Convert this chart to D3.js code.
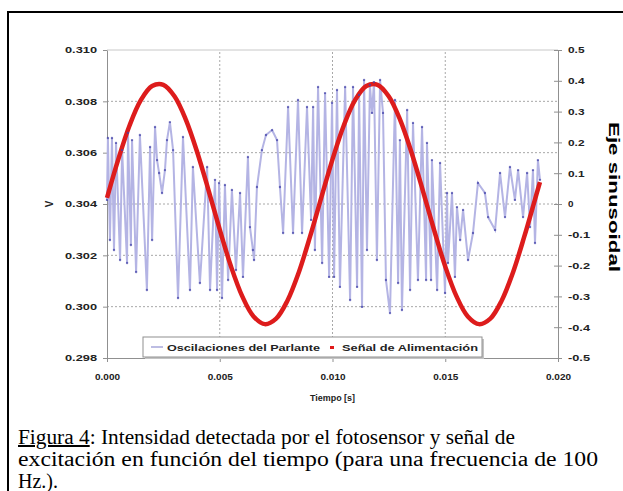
<!DOCTYPE html>
<html>
<head>
<meta charset="utf-8">
<script src="https://cdn.jsdelivr.net/npm/d3@7"></script>
<style>
  body { margin: 0; background: #fff; }
  svg text { font-family: "Liberation Sans", Arial, sans-serif; }
  .caption { font-family: "Liberation Serif", "Times New Roman", serif; font-size: 20px; fill: #000; }
</style>
</head>
<body>
<div id="chart"></div>
<script>
// tick values
var xTicks = [0, 0.005, 0.010, 0.015, 0.020];
var leftTicks = [0.298, 0.300, 0.302, 0.304, 0.306, 0.308, 0.310];
var rightTicks = [-0.5, -0.4, -0.3, -0.2, -0.1, 0, 0.1, 0.2, 0.3, 0.4, 0.5];
var rightTickLabels = ["-0.5", "-0.4", "-0.3", "-0.2", "-0.1", "0", "0.1", "0.2", "0.3", "0.4", "0.5"];
var seriesNames = ["Oscilaciones del Parlante", "Señal de Alimentación"];

// Oscilaciones del Parlante (V, left axis)
var parlanteTime = [0, 0.00004, 0.00013, 0.00022, 0.00031, 0.00040, 0.00058, 0.00067, 0.00089, 0.00093,
  0.00106, 0.00111, 0.00129, 0.00146, 0.00177, 0.00191, 0.00200, 0.00213, 0.00222, 0.00231,
  0.00244, 0.00257, 0.00266, 0.00279, 0.00293, 0.00315, 0.00337, 0.00368, 0.00381, 0.00412,
  0.00444, 0.00457, 0.00479, 0.00488, 0.00497, 0.00510, 0.00523, 0.00537, 0.00554, 0.00572,
  0.00590, 0.00603, 0.00625, 0.00634, 0.00647, 0.00652, 0.00665, 0.00687, 0.00705, 0.00732,
  0.00754, 0.00767, 0.00781, 0.00803, 0.00825, 0.00847, 0.00865, 0.00887, 0.00905, 0.00914,
  0.00922, 0.00936, 0.00954, 0.00967, 0.00985, 0.00998, 0.01007, 0.01020, 0.01033, 0.01056,
  0.01078, 0.01091, 0.01109, 0.01118, 0.01131, 0.01140, 0.01153, 0.01166, 0.01175, 0.01184,
  0.01197, 0.01211, 0.01224, 0.01237, 0.01255, 0.01277, 0.01291, 0.01299, 0.01308, 0.01331,
  0.01344, 0.01357, 0.01379, 0.01397, 0.01415, 0.01419, 0.01437, 0.01441, 0.01464, 0.01477,
  0.01499, 0.01508, 0.01512, 0.01530, 0.01543, 0.01552, 0.01566, 0.01579, 0.01601, 0.01623,
  0.01645, 0.01676, 0.01690, 0.01721, 0.01743, 0.01765, 0.01787, 0.01809, 0.01823, 0.01845,
  0.01863, 0.01876, 0.01889, 0.01898, 0.01911, 0.01920];
var parlanteV = [0.30416, 0.30657, 0.30260, 0.30657, 0.30221, 0.30638, 0.30182, 0.30610, 0.30170, 0.30677,
  0.30240, 0.30649, 0.30135, 0.30669, 0.30065, 0.30622, 0.30260, 0.30700, 0.30571, 0.30521,
  0.30443, 0.30532, 0.30649, 0.30719, 0.30610, 0.30034, 0.30661, 0.30065, 0.30544, 0.30092,
  0.30544, 0.30065, 0.30494, 0.30065, 0.30482, 0.30034, 0.30474, 0.30104, 0.30455, 0.30143,
  0.30443, 0.30116, 0.30583, 0.30310, 0.30221, 0.30182, 0.30466, 0.30610, 0.30669, 0.30688,
  0.30649, 0.30466, 0.30287, 0.30778, 0.30287, 0.30805, 0.30287, 0.30778, 0.30338, 0.30778,
  0.30221, 0.30856, 0.30170, 0.30832, 0.30116, 0.30794, 0.30116, 0.30844, 0.30077, 0.30856,
  0.30026, 0.30856, 0.30077, 0.30825, 0.29999, 0.30883, 0.30221, 0.30864, 0.30755, 0.30875,
  0.30182, 0.30883, 0.30755, 0.30104, 0.29975, 0.30805, 0.30092, 0.30649, 0.29987, 0.30766,
  0.30065, 0.30716, 0.30104, 0.30700, 0.30104, 0.30638, 0.30104, 0.30571, 0.30065, 0.30560,
  0.30053, 0.30443, 0.30170, 0.30443, 0.30116, 0.30388, 0.30260, 0.30377, 0.30182, 0.30287,
  0.30482, 0.30443, 0.30349, 0.30299, 0.30521, 0.30349, 0.30544, 0.30416, 0.30532, 0.30349,
  0.30521, 0.30310, 0.30532, 0.30248, 0.30571, 0.30494];

// Señal de Alimentación (right axis)
var senalTime = [0, 0.0005, 0.0010, 0.0015, 0.0020, 0.0025, 0.0030, 0.0035, 0.0040, 0.0045,
  0.0050, 0.0055, 0.0060, 0.0065, 0.0070, 0.0075, 0.0080, 0.0085, 0.0090, 0.0095,
  0.0100, 0.0105, 0.0110, 0.0115, 0.0120, 0.0125, 0.0130, 0.0135, 0.0140, 0.0145,
  0.0150, 0.0155, 0.0160, 0.0165, 0.0170, 0.0175, 0.0180, 0.0185, 0.0190, 0.0192];
var senalValue = [0.020, 0.145, 0.255, 0.337, 0.383, 0.387, 0.349, 0.273, 0.168, 0.045,
  -0.083, -0.203, -0.300, -0.365, -0.390, -0.372, -0.314, -0.223, -0.107, 0.020,
  0.145, 0.255, 0.337, 0.383, 0.387, 0.349, 0.273, 0.168, 0.045, -0.083,
  -0.203, -0.300, -0.365, -0.390, -0.372, -0.314, -0.223, -0.107, 0.020, 0.071];

var width = 623, height = 491;
var plot = { left: 107, right: 558, top: 50, bottom: 358 };

var svg = d3.select("#chart").append("svg")
  .attr("width", width)
  .attr("height", height);

svg.append("rect").attr("width", width).attr("height", height).attr("fill", "#fff");

// black frame round figure (right/bottom run off the page)
svg.append("rect")
  .attr("x", 8).attr("y", 12)
  .attr("width", width + 20).attr("height", height + 20)
  .attr("fill", "none").attr("stroke", "#000").attr("stroke-width", 2);

var x = d3.scaleLinear().domain([0, 0.02]).range([plot.left, plot.right]);
var yL = d3.scaleLinear().domain([0.298, 0.310]).range([plot.bottom, plot.top]);
var yR = d3.scaleLinear().domain([-0.5, 0.5]).range([plot.bottom, plot.top]);

// grid
var grid = svg.append("g");
grid.selectAll(".hg").data(leftTicks.slice(1, -1)).join("line")
  .attr("x1", x.range()[0]).attr("x2", x.range()[1])
  .attr("y1", function (d) { return yL(d); }).attr("y2", function (d) { return yL(d); })
  .attr("stroke", "#a8a8a8").attr("stroke-dasharray", "2,2");
grid.selectAll(".vg").data(xTicks.slice(1, -1)).join("line")
  .attr("x1", function (d) { return x(d); }).attr("x2", function (d) { return x(d); })
  .attr("y1", yL.range()[0]).attr("y2", yL.range()[1])
  .attr("stroke", "#a8a8a8").attr("stroke-dasharray", "2,2");
grid.append("line")
  .attr("x1", x.range()[0]).attr("x2", x.range()[1])
  .attr("y1", yL(0.310)).attr("y2", yL(0.310))
  .attr("stroke", "#c8c8c8");

function styleAxis(g, len) {
  g.select(".domain").attr("stroke", "#909090");
  g.selectAll(".tick line").attr("stroke", "#909090");
  g.selectAll(".tick text")
    .attr("fill", "#222")
    .style("font-size", "9px")
    .style("font-weight", "bold")
    .attr("textLength", len)
    .attr("lengthAdjust", "spacingAndGlyphs");
}

var gLeft = svg.append("g")
  .attr("transform", "translate(" + plot.left + ",0)")
  .call(d3.axisLeft(yL).tickValues(leftTicks).tickFormat(d3.format(".3f"))
    .tickSize(4).tickSizeOuter(0).tickPadding(6));
styleAxis(gLeft, 32);

var gRight = svg.append("g")
  .attr("transform", "translate(" + plot.right + ",0)")
  .call(d3.axisRight(yR).tickValues(rightTicks)
    .tickFormat(function (d, i) { return rightTickLabels[i]; })
    .tickSize(4).tickSizeOuter(0).tickPadding(6));
styleAxis(gRight, null);
gRight.selectAll(".tick line").attr("x1", -4);
gRight.selectAll(".tick text")
  .attr("textLength", function (d, i) { return rightTickLabels[i].length * 5.5; });

var gBottom = svg.append("g")
  .attr("transform", "translate(0," + plot.bottom + ")")
  .call(d3.axisBottom(x).tickValues(xTicks).tickFormat(d3.format(".3f"))
    .tickSize(4).tickSizeOuter(0).tickPadding(12));
styleAxis(gBottom, 25);

// axis titles
svg.append("text")
  .attr("transform", "translate(53," + yL(0.304) + ") rotate(-90)")
  .attr("text-anchor", "middle")
  .style("font-size", "10px").style("font-weight", "bold").attr("fill", "#222")
  .text("V");

svg.append("text")
  .attr("x", x(0.010)).attr("y", 401)
  .attr("text-anchor", "middle")
  .style("font-size", "9px").style("font-weight", "bold").attr("fill", "#222")
  .attr("textLength", 45).attr("lengthAdjust", "spacingAndGlyphs")
  .text("Tiempo [s]");

svg.append("text")
  .attr("transform", "translate(609,197) rotate(90)")
  .attr("text-anchor", "middle")
  .style("font-size", "14px").style("font-weight", "bold").attr("fill", "#000")
  .attr("textLength", 150).attr("lengthAdjust", "spacingAndGlyphs")
  .text("Eje sinusoidal");

// series
var parlante = parlanteTime.map(function (t, i) { return [t, parlanteV[i]]; });
var senal = senalTime.map(function (t, i) { return [t, senalValue[i]]; });

var lineL = d3.line()
  .x(function (d) { return x(d[0]); })
  .y(function (d) { return yL(d[1]); });
var lineR = d3.line()
  .x(function (d) { return x(d[0]); })
  .y(function (d) { return yR(d[1]); })
  .curve(d3.curveCatmullRom);

svg.append("path")
  .datum(parlante)
  .attr("d", lineL)
  .attr("fill", "none")
  .attr("stroke", "#b4b4e4")
  .attr("stroke-width", 2);

svg.append("path")
  .datum(senal)
  .attr("d", lineR)
  .attr("fill", "none")
  .attr("stroke", "#dd1c1c")
  .attr("stroke-width", 4.5);

svg.append("g").selectAll("circle")
  .data(parlante)
  .join("circle")
  .attr("cx", function (d) { return x(d[0]); })
  .attr("cy", function (d) { return yL(d[1]); })
  .attr("r", 1.2)
  .attr("fill", "#4444aa")
  .attr("opacity", 0.75);

// legend
var leg = svg.append("g").attr("transform", "translate(143,337)");
leg.append("rect").attr("x", 2).attr("y", 2).attr("width", 339).attr("height", 20).attr("fill", "#c4c4c4");
leg.append("rect").attr("width", 339).attr("height", 20).attr("fill", "#fff").attr("stroke", "#909090");
leg.append("line").attr("x1", 8).attr("x2", 20).attr("y1", 10).attr("y2", 10)
  .attr("stroke", "#9090d0").attr("stroke-width", 1.2);
leg.append("text").attr("x", 24).attr("y", 14)
  .style("font-size", "9px").style("font-weight", "bold").attr("fill", "#222")
  .attr("textLength", 153).attr("lengthAdjust", "spacingAndGlyphs")
  .text(seriesNames[0]);
leg.append("rect").attr("x", 187).attr("y", 9).attr("width", 4).attr("height", 3).attr("fill", "#e01a1a");
leg.append("text").attr("x", 199).attr("y", 14)
  .style("font-size", "9px").style("font-weight", "bold").attr("fill", "#222")
  .attr("textLength", 136).attr("lengthAdjust", "spacingAndGlyphs")
  .text(seriesNames[1]);

// caption
var cap1 = svg.append("text").attr("class", "caption").attr("x", 18).attr("y", 444)
  .attr("textLength", 497).attr("lengthAdjust", "spacingAndGlyphs");
cap1.append("tspan").style("text-decoration", "underline").text("Figura 4");
cap1.append("tspan").text(": Intensidad detectada por el fotosensor y señal de");
svg.append("text").attr("class", "caption").attr("x", 18).attr("y", 466)
  .attr("textLength", 580).attr("lengthAdjust", "spacingAndGlyphs")
  .text("excitación en función del tiempo (para una frecuencia de 100");
svg.append("text").attr("class", "caption").attr("x", 18).attr("y", 488)
  .text("Hz.).");
</script>
</body>
</html>
